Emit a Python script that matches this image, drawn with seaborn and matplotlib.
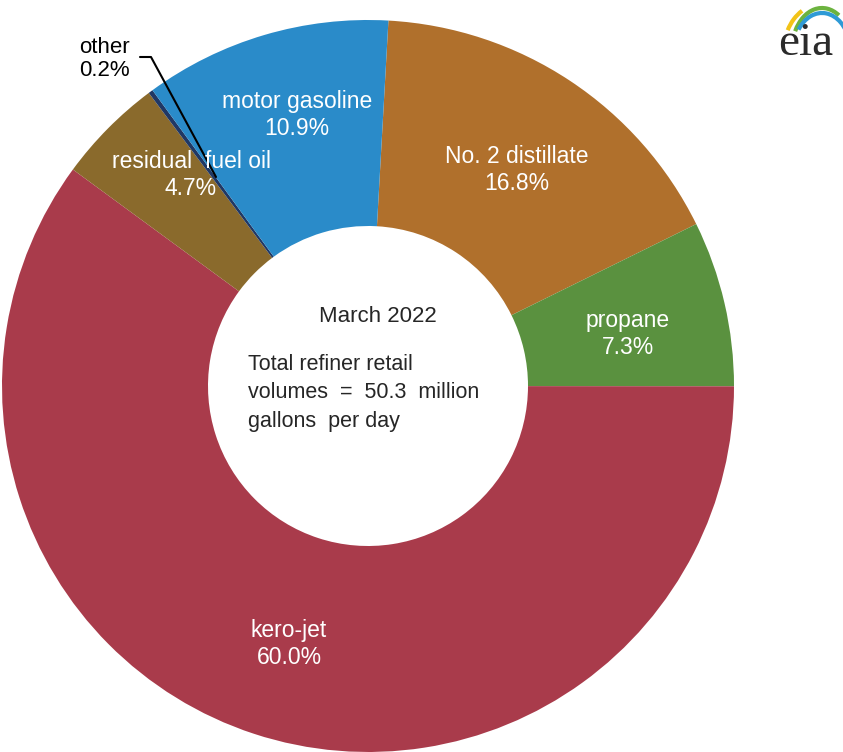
import matplotlib
matplotlib.use("Agg")
import matplotlib.pyplot as plt
from matplotlib.patches import Arc
import seaborn as sns

# fuel shares, clockwise from the top
fuels = ["No. 2 distillate", "propane", "kero-jet", "residual  fuel oil", "other", "motor gasoline"]
shares = [16.8, 7.3, 60.0, 4.7, 0.2, 10.9]
pct_labels = ["16.8%", "7.3%", "60.0%", "4.7%", "0.2%", "10.9%"]
colors = ["#B0702C", "#5A913F", "#A93B4B", "#8A6A2C", "#203864", "#2A8BC9"]

month = "March 2022"
total = "50.3"

sns.set_theme(style="white")
plt.rcParams["font.family"] = ["Liberation Sans", "DejaVu Sans"]

W, H = 843, 752
fig = plt.figure(figsize=(W / 100, H / 100), dpi=100)
ax = fig.add_axes([0, 0, 1, 1])


def px(x, y):
    return x, H - y


cx, cy = px(368, 386)
R = 366
wedges, _ = ax.pie(shares, colors=sns.color_palette(colors), startangle=86.8,
                   counterclock=False, center=(cx, cy), radius=R,
                   wedgeprops=dict(width=R - 160, linewidth=0),
                   normalize=True)
# pie resets the limits, so put the pixel frame back afterwards
ax.set_xlim(0, W)
ax.set_ylim(0, H)
ax.set_aspect("equal")
ax.axis("off")

# label spots inside the ring (pixels from top-left), "other" handled below
label_xy = {"No. 2 distillate": (517, 170), "propane": (628, 334), "kero-jet": (289, 644),
            "residual  fuel oil": (191, 175), "motor gasoline": (297, 115)}
for name, pct in zip(fuels, pct_labels):
    if name not in label_xy:
        continue
    ax.text(*px(*label_xy[name]), f"{name}\n{pct}", ha="center", va="center",
            color="white", fontsize=16.5, linespacing=1.2)

# "other" slice is too thin, label it outside with a leader line
ax.text(*px(79, 59), "other\n0.2%", ha="left", va="center", color="black",
        fontsize=16, linespacing=1.15)
ax.plot(*zip(px(140, 57), px(151, 57), px(216, 177)), color="black", lw=1.5)

# centre text
ax.text(*px(378, 316), month, ha="center", va="center", fontsize=16)
ax.text(*px(248, 365), "Total refiner retail", ha="left", va="center", fontsize=15.5)
ax.text(*px(248, 393), "volumes  =  " + total + "  million", ha="left", va="center", fontsize=15.5)
ax.text(*px(248, 421), "gallons  per day", ha="left", va="center", fontsize=15.5)

# eia logo
ax.text(*px(806, 55), "eia", ha="center", va="baseline", fontsize=34,
        family=["Liberation Serif", "DejaVu Serif"], color="#2b2b2b")
lx, ly = px(822, 50)
for rx, ry, c, t1, t2 in [(38, 46, "#F2C318", 117, 150), (30, 42, "#6CB33F", 64, 145),
                          (28, 37, "#2E9AD6", 20, 139)]:
    ax.add_patch(Arc((lx, ly), 2 * rx, 2 * ry, theta1=t1, theta2=t2, color=c, lw=3))

fig.savefig("out.png", dpi=100, facecolor="white")
